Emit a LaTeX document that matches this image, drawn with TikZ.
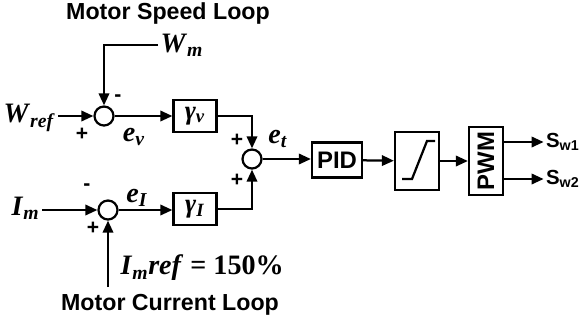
\documentclass[tikz,border=0pt]{standalone}
\usepackage{fontspec}
\setmainfont{Liberation Serif}
\setsansfont{Liberation Sans}
\usetikzlibrary{arrows.meta}

\newcommand{\signame}[2]{\textbf{\textit{#1}}\textsubscript{\textbf{\textit{#2}}}}

\begin{document}
\begin{tikzpicture}[
    x=0.025cm, y=-0.025cm,
    >={Triangle[length=3mm,width=2.6mm]},
    line width=1.6pt,
    block/.style={
        draw,
        rectangle,
        minimum width=1.075cm,
        minimum height=0.8cm,
        inner sep=0pt,
        font=\fontsize{19}{19}\selectfont
    },
    sumnode/.style={draw, circle, minimum size=0.475cm, inner sep=0pt},
    siglabel/.style={inner sep=1pt, font=\fontsize{20}{20}\selectfont},
    signlabel/.style={inner sep=0pt, font=\sffamily\bfseries\fontsize{15}{15}\selectfont},
    looptitle/.style={font=\sffamily\bfseries\fontsize{16.5}{16.5}\selectfont},
    outlabel/.style={anchor=west, inner sep=0pt, font=\sffamily\bfseries\fontsize{14.5}{14.5}\selectfont}
]
    \useasboundingbox (0,0) rectangle (579,324);

    % Titles
    \node[looptitle] (speedtitle) at (168,13) {Motor Speed Loop};
    \node[looptitle] (currenttitle) at (170,305) {Motor Current Loop};

    % Summing junctions
    \node[sumnode] (sumv) at (104,116) {};
    \node[sumnode] (sumi) at (108,210) {};
    \node[sumnode] (sumt) at (252,159) {};

    % Blocks
    \node[block] (gainv) at (195,116) {\signame{γ}{v}};
    \node[block] (gaini) at (195,209) {\signame{γ}{I}};
    \node[block, minimum width=1.25cm, minimum height=0.875cm,
        font=\sffamily\bfseries\fontsize{17}{17}\selectfont] (pid) at (337,160) {PID};
    \node[block, minimum width=1.1cm, minimum height=1.45cm] (sat) at (417,161) {};
    \node[block, minimum width=0.85cm, minimum height=1.7cm,
        font=\sffamily\bfseries\fontsize{17}{17}\selectfont] (pwm) at (486,161) {\rotatebox{90}{PWM}};
    \draw ([shift={(-15,18)}]sat.center) -- ++(10,0) -- ++(15,-38) -- ++(8,0);

    % Signals
    \node[siglabel, anchor=east] (wref) at (58,118) {\signame{W}{ref}};
    \node[siglabel, anchor=west] (wm) at (158,45) {\signame{W}{m}};
    \node[siglabel, anchor=east] (im) at (42,208) {\signame{I}{m}};
    \node[siglabel, anchor=west] (imref) at (118,268) {\signame{I}{m}\textbf{\textit{ref}} \textbf{= 150\%}};
    \coordinate (imrefin) at (108,287);
    \node[siglabel] (ev) at (134,137) {\signame{e}{v}};
    \node[siglabel] (ei) at (137,198) {\signame{e}{I}};
    \node[siglabel] (et) at (278,139) {\signame{e}{t}};
    \node[outlabel] (sw1) at (545,142) {S\textsubscript{w1}};
    \node[outlabel] (sw2) at (545,179) {S\textsubscript{w2}};

    % Signs
    \node[signlabel] (pv) at (82,134) {+};
    \node[signlabel] (mv) at (118,98) {-};
    \node[signlabel] (mi) at (87,187) {-};
    \node[signlabel] (pi) at (93,228) {+};
    \node[signlabel] (pt1) at (237,140) {+};
    \node[signlabel] (pt2) at (237,180) {+};

    % Arrows
    \draw[->] (wref.east |- sumv) -- (sumv);
    \draw[->] (wm.west) -| (sumv.north);
    \draw[->] (sumv) -- (gainv);
    \draw[->] (gainv) -| (sumt.north);
    \draw[->] (im.east |- sumi) -- (sumi);
    \draw[->] (imrefin) -- (sumi.south);
    \draw[->] (sumi) -- (gaini.west |- sumi);
    \draw[->] (gaini) -| (sumt.south);
    \draw[->] (sumt) -- (pid.west |- sumt);
    \draw[->] (pid) -- (sat);
    \draw[->] (sat) -- (pwm);
    \draw[->] ([xshift=-1pt]pwm.east |- sw1) -- ([xshift=-1pt]sw1.west);
    \draw[->] ([xshift=-1pt]pwm.east |- sw2) -- ([xshift=-1pt]sw2.west);

\end{tikzpicture}
\end{document}
